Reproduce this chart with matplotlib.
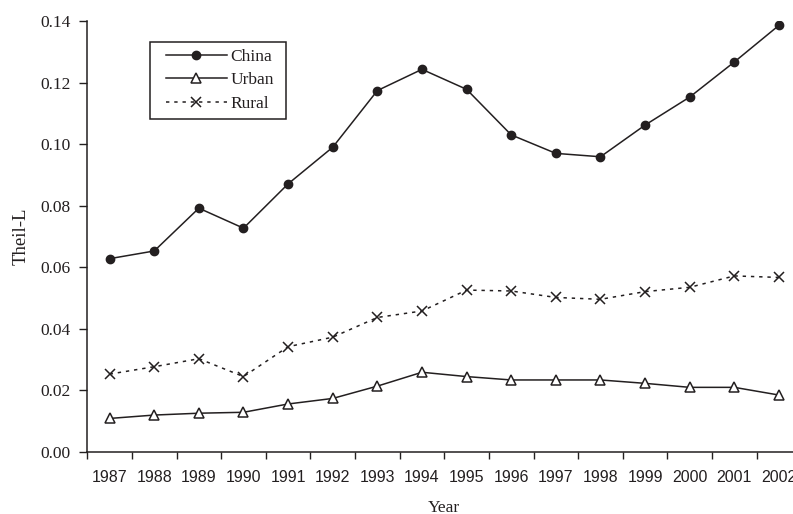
import numpy as np
import matplotlib
matplotlib.use("Agg")
import matplotlib.pyplot as plt
from matplotlib.patches import Rectangle

years = [str(y) for y in range(1987, 2003)]
china = [0.0628, 0.0653, 0.0792, 0.0727, 0.0871, 0.0990, 0.1174, 0.1243,
         0.1178, 0.1030, 0.0970, 0.0959, 0.1062, 0.1153, 0.1267, 0.1386]
urban = [0.0109, 0.0120, 0.0126, 0.0129, 0.0156, 0.0174, 0.0214, 0.0259,
         0.0245, 0.0234, 0.0234, 0.0234, 0.0223, 0.0210, 0.0210, 0.0185]
rural = [0.0253, 0.0277, 0.0303, 0.0245, 0.0342, 0.0373, 0.0437, 0.0458,
         0.0526, 0.0523, 0.0502, 0.0496, 0.0521, 0.0535, 0.0572, 0.0567]
yticks = [0.00, 0.02, 0.04, 0.06, 0.08, 0.10, 0.12, 0.14]

ink = "#231f20"
serif = "Liberation Serif"
sans = "Liberation Sans"

W, H = 793, 514
fig = plt.figure(figsize=(W / 100, H / 100), dpi=100)
# axes run a little past the right edge of the figure
ax = fig.add_axes([87.3 / W, 62 / H, 714 / W, 431 / H])

x = np.arange(len(years))
ax.plot(x, china, color=ink, lw=1.1, marker="o", ms=6,
        mfc=ink, mec=ink, label="China")
ax.plot(x, urban, color=ink, lw=1.1, marker="^", ms=7,
        mfc="white", mec=ink, mew=1.1, label="Urban")
ax.plot(x, rural, color=ink, lw=1.1, ls=(0, (2.2, 3.2)), marker="x", ms=6.5,
        mec=ink, mew=1.1, label="Rural")

ax.set_xlim(-0.5, len(years) - 0.5)
ax.set_ylim(0, 0.14)

# category boundaries get tick marks, labels sit at the centres
ax.set_xticks(np.arange(len(years) + 1) - 0.5)
ax.set_xticklabels([])
ax.set_xticks(x, minor=True)
ax.set_xticklabels(years, minor=True, fontfamily=sans, fontsize=11.5, color=ink)
ax.tick_params(axis="x", which="major", direction="out", length=5,
               width=1, color=ink)
ax.tick_params(axis="x", which="minor", length=0, pad=13)

ax.set_yticks(yticks)
ax.set_yticklabels([f"{v:.2f}" for v in yticks], fontfamily=serif,
                   fontsize=12.5, color=ink)
ax.tick_params(axis="y", direction="out", length=6, width=1, color=ink, pad=6)

for side in ("top", "right"):
    ax.spines[side].set_visible(False)
for side in ("left", "bottom"):
    ax.spines[side].set_color(ink)
    ax.spines[side].set_linewidth(1.1)

ax.set_xlabel("Year", fontfamily=serif, fontsize=12.5, color=ink, labelpad=10.5)
ax.set_ylabel("Theil-L", fontfamily=serif, fontsize=13.5, color=ink, labelpad=8)

leg = ax.legend(loc="upper left", bbox_to_anchor=(159 / W, 1 - 41.7 / H),
                bbox_transform=fig.transFigure, frameon=False,
                prop={"family": serif, "size": 12.5}, handlelength=3.5,
                handletextpad=0.2, labelspacing=0.42, borderpad=0.4,
                borderaxespad=0)
for t in leg.get_texts():
    t.set_color(ink)

# square frame with wider side margins than the legend's own padding
fig.canvas.draw()
bb = leg.get_window_extent()
fig.add_artist(Rectangle((bb.x0 - 9, bb.y0), bb.width + 14, bb.height,
                         transform=None, fill=False, ec=ink, lw=1.1))

fig.savefig("out.png", dpi=100)
